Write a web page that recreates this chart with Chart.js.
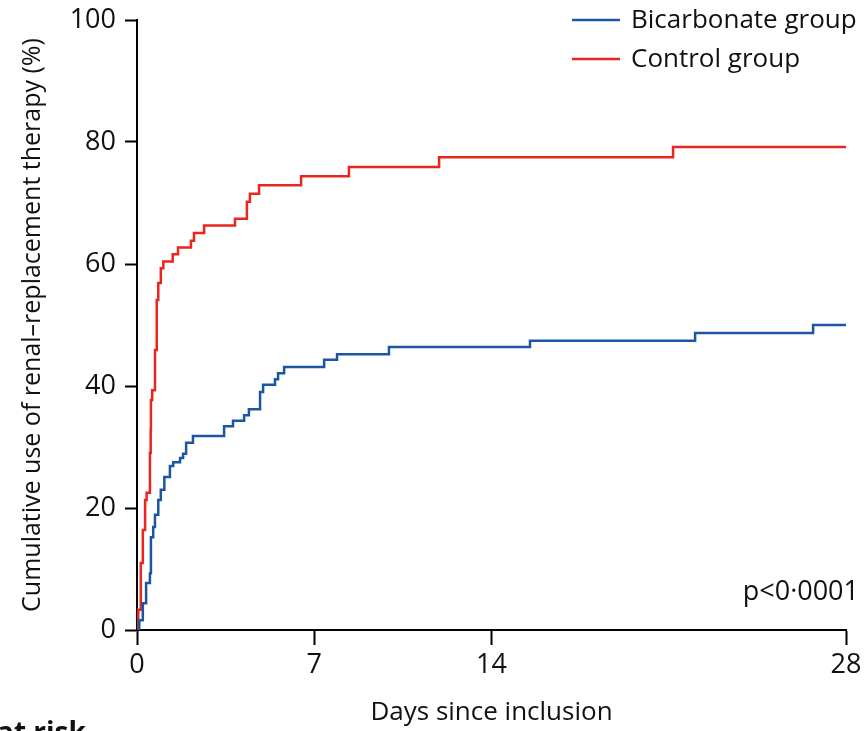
<!DOCTYPE html>
<html><head><meta charset="utf-8">
<script src="https://cdn.jsdelivr.net/npm/chart.js@4/dist/chart.umd.min.js"></script>
<style>html,body{margin:0;padding:0;background:#fff;overflow:hidden}#wrap{position:relative;width:867px;height:731px}</style>
</head><body><div id="wrap"><canvas id="c" width="867" height="731"></canvas></div>
<script>
// days since inclusion / cumulative % on RRT
var bicarbDays=[0,0.09,0.23,0.36,0.51,0.55,0.64,0.71,0.84,0.94,1.08,1.30,1.43,1.70,1.82,1.94,2.21,3.44,3.79,4.23,4.42,4.86,4.98,5.45,5.57,5.81,7.39,7.90,9.95,15.52,22.04,26.70,28];
var bicarbPct=[0,1.6,4.4,7.7,9.3,15.2,16.9,18.9,21.3,23.0,25.1,26.9,27.5,28.2,28.9,30.7,31.8,33.4,34.3,35.2,36.2,39.0,40.2,41.1,42.1,43.1,44.3,45.2,46.4,47.4,48.7,50.0,50.0];
var controlDays=[0,0.05,0.15,0.23,0.32,0.38,0.51,0.54,0.55,0.60,0.71,0.78,0.84,0.94,1.04,1.41,1.62,2.13,2.25,2.65,3.87,4.34,4.46,4.82,6.48,8.37,11.93,21.17,28];
var controlPct=[0,3.3,11.0,16.4,21.3,22.5,29.0,32.8,37.7,39.3,45.9,54.1,56.9,59.3,60.4,61.6,62.7,63.8,65.1,66.3,67.4,70.2,71.5,72.9,74.4,75.9,77.5,79.2,79.2];
var xTicks=[0,7,14,28];
var yTicks=[0,20,40,60,80,100];
var seriesNames=['Bicarbonate group','Control group'];
var pText='p<0\u00b70001';

var BLUE='#1c56a3',RED='#e8261e',FONT='"Open Sans", "Noto Sans", sans-serif';
var pts=function(xs,ys){var o=[];for(let i=0;i<xs.length;i++){o.push({x:xs[i],y:ys[i]});}return o;};

var extras={id:'extras',afterDraw:function(ch){var ctx=ch.ctx;ctx.save();
	var cols=[BLUE,RED],ys=[20,59];
	ctx.font='26px '+FONT;ctx.textBaseline='middle';ctx.textAlign='left';
	for(let i=0;i<2;i++){ctx.strokeStyle=cols[i];ctx.lineWidth=2.5;ctx.beginPath();ctx.moveTo(572,ys[i]);ctx.lineTo(620,ys[i]);ctx.stroke();
		ctx.fillStyle='#111';ctx.fillText(seriesNames[i],631,ys[i]+1);}
	ctx.font='27px '+FONT;ctx.textAlign='right';ctx.fillText(pText,859,592);
	ctx.font='bold 28px '+FONT;ctx.textAlign='left';ctx.textBaseline='alphabetic';ctx.fillText('at risk',-3,742);
	ctx.restore();}};

new Chart(document.getElementById('c'),{type:'line',
	data:{datasets:[
		{label:seriesNames[0],data:pts(bicarbDays,bicarbPct),borderColor:BLUE,borderWidth:2.5,stepped:true,pointRadius:0,fill:false},
		{label:seriesNames[1],data:pts(controlDays,controlPct),borderColor:RED,borderWidth:2.5,stepped:true,pointRadius:0,fill:false}]},
	options:{responsive:false,animation:false,events:[],
		layout:{padding:{top:20,right:21,left:0,bottom:0}},
		plugins:{legend:{display:false},tooltip:{enabled:false}},
		scales:{
			x:{type:'linear',min:0,max:28,afterBuildTicks:function(s){s.ticks=xTicks.map(function(v){return {value:v}});},
				afterFit:function(s){s.height=101;s.paddingLeft=0;s.paddingRight=0;},
				grid:{drawOnChartArea:false,drawTicks:true,tickLength:15,tickWidth:2,tickColor:'#000'},
				border:{display:true,color:'#000',width:2},
				ticks:{color:'#111',font:{family:FONT,size:27},padding:4,maxRotation:0},
				title:{display:true,text:'Days since inclusion',color:'#111',font:{family:FONT,size:26},padding:{top:0,bottom:3}}},
			y:{min:0,max:100,afterBuildTicks:function(s){s.ticks=yTicks.map(function(v){return {value:v}});},
				afterFit:function(s){s.width=137;s.paddingTop=0;s.paddingBottom=0;},
				grid:{drawOnChartArea:false,drawTicks:true,tickLength:12,tickWidth:2,tickColor:'#000'},
				border:{display:true,color:'#000',width:2},
				ticks:{color:'#111',font:{family:FONT,size:27},padding:9},
				title:{display:true,text:'Cumulative use of renal\u2013replacement therapy (%)',color:'#111',font:{family:FONT,size:25},padding:{top:18,bottom:0}}}
		}},
	plugins:[extras]});
</script></body></html>
